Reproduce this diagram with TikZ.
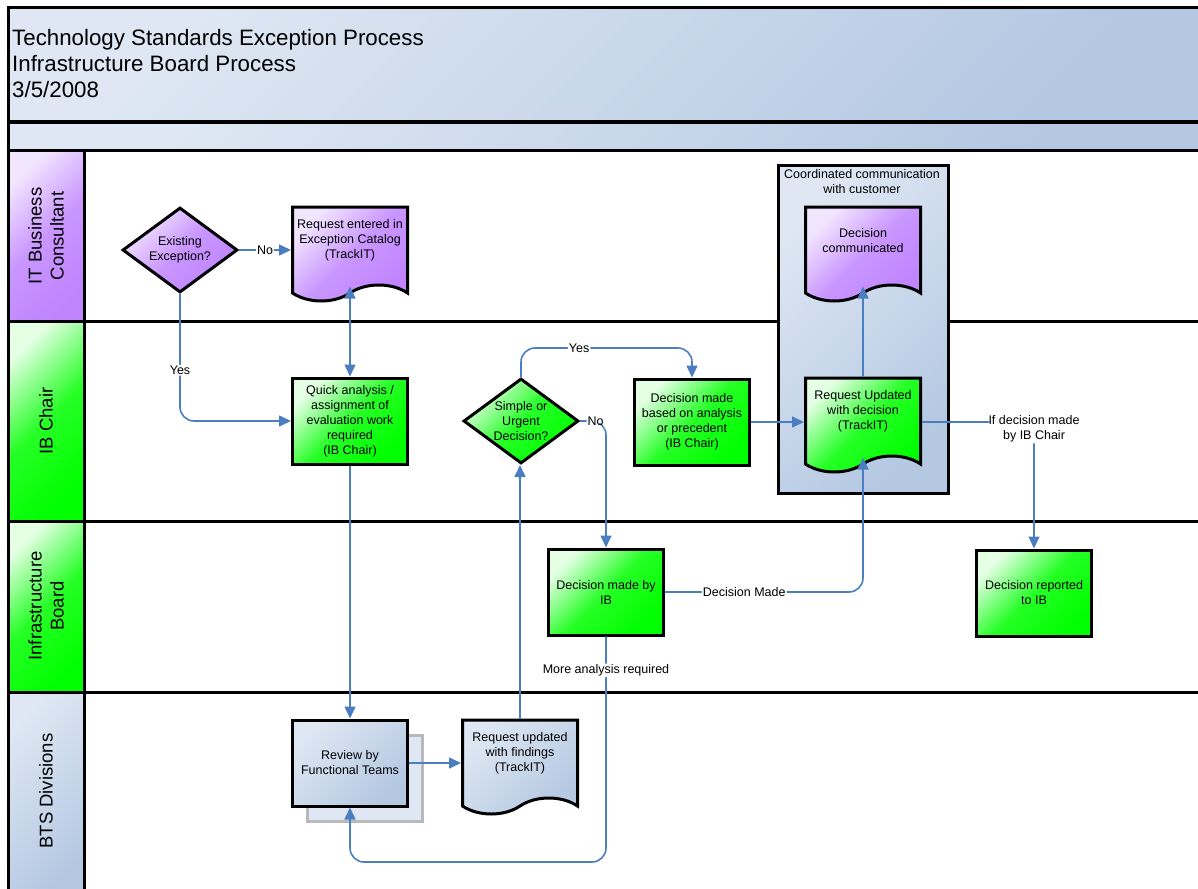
\documentclass[tikz,border=0pt]{standalone}
\usepackage{fontspec}
\setmainfont{Liberation Sans}
\usetikzlibrary{arrows.meta, positioning, shapes.geometric, shapes.symbols}
\definecolor{lanegreen}{RGB}{0,255,0}
\definecolor{lanepurple}{RGB}{192,132,255}
\definecolor{paleblue}{RGB}{222,231,243}
\definecolor{steelblue}{RGB}{180,200,226}
\definecolor{linkblue}{RGB}{74,126,193}

\begin{document}
\begin{tikzpicture}[x=1pt, y=-1pt, font=\fontsize{12.5}{15}\selectfont, >={Triangle[length=12pt, width=11pt]},
    bluefill/.style={top color=paleblue, bottom color=steelblue, shading angle=45},
    purplefill/.style={top color=lanepurple!20, bottom color=lanepurple, middle color=lanepurple!85, shading angle=45},
    greenfill/.style={top color=lanegreen!10, bottom color=lanegreen, middle color=lanegreen!85, shading angle=45},
    proc/.style={draw, line width=3pt, minimum width=115pt, minimum height=86pt, align=center, inner sep=1pt},
    docu/.style={proc, tape, tape bend top=none, tape bend bottom=in and out, tape bend height=16pt, minimum height=94pt},
    doctext/.style={align=center, yshift=5.5pt},
    decide/.style={draw, diamond, line width=3pt, minimum width=115pt, minimum height=85pt, aspect=1.35, align=center, inner sep=0pt},
    flow/.style={draw=linkblue, line width=1.6pt, rounded corners=14pt},
    flowlbl/.style={fill=white, inner sep=1pt, align=center},
    lanetxt/.style={rotate=90, align=center, font=\fontsize{18.5}{22}\selectfont}]

  \useasboundingbox (0,0) rectangle (1198,888);
  \clip (0,0) rectangle (1198,888);
  \shade[bluefill] (8,8) rectangle (1220,122);
  \shade[bluefill] (8,122) rectangle (1220,150);
  \shade[purplefill] (8,150) rectangle (84,321);
  \shade[greenfill] (8,321) rectangle (84,521);
  \shade[greenfill] (8,521) rectangle (84,692);
  \shade[bluefill] (8,692) rectangle (84,900);
  \foreach \y in {122,150,321,521,692} \draw[line width=3pt] (8,\y) -- (1220,\y);
  \draw[line width=3pt] (1220,8) -- (8,8) -- (8,900);
  \draw[line width=3pt] (84,150) -- (84,900);

  \node[anchor=north west, align=left, inner sep=0pt, font=\fontsize{22.3}{26}\selectfont] (title) at (12,29)
    {Technology Standards Exception Process\\Infrastructure Board Process\\3/5/2008};
  \node[lanetxt] (laneIT) at (46,236) {IT Business\\Consultant};
  \node[lanetxt] (laneIB) at (46,421) {IB Chair};
  \node[lanetxt] (laneInfra) at (46,606) {Infrastructure\\Board};
  \node[lanetxt] (laneBTS) at (46,791) {BTS Divisions};

  \node[draw, line width=3pt, bluefill, minimum width=170pt, minimum height=328pt] (grp) at (863,329) {};
  \node[align=center] (grplbl) at (862,182) {Coordinated communication\\with customer};

  \node[decide, purplefill] (ex) at (180,250) {Existing\\Exception?};
  \node[docu, purplefill, label={[doctext]center:{Request entered in\\Exception Catalog\\(TrackIT)}}] (req) at (350,246) {};
  \node[proc, greenfill] (qa) at (350,421) {Quick analysis /\\assignment of\\evaluation work\\required\\(IB Chair)};
  \node[decide, greenfill] (simple) at (521,421) {Simple or\\Urgent\\Decision?};
  \node[proc, greenfill] (dm) at (692,422) {Decision made\\based on analysis\\or precedent\\(IB Chair)};
  \node[docu, purplefill, label={[doctext]center:{Decision\\communicated}}] (comm) at (863,246) {};
  \node[docu, greenfill, label={[doctext]center:{Request Updated\\with decision\\(TrackIT)}}] (ru) at (863,417) {};
  \node[proc, greenfill] (ib) at (606,592) {Decision made by\\IB};
  \node[proc, greenfill] (rep) at (1034,593) {Decision reported\\to IB};
  \node[proc, fill=paleblue, draw=gray!55] (revsh) at (365,778) {};
  \node[proc, bluefill] (rev) at (350,763) {Review by\\Functional Teams};
  \node[docu, bluefill, label={[doctext]center:{Request updated\\with findings\\(TrackIT)}}] (fnd) at (520,759) {};
  \coordinate (back) at (606,862);

  \draw[flow, ->] (ex.east) -- node[flowlbl] {No} (ex.east -| req.west);
  \draw[flow, ->] (ex.south) |- node[flowlbl, pos=0.3] {Yes} (qa.west);
  \draw[flow, <->] (req.south) -- (qa.north);
  \draw[flow, ->] (qa.south) -- (rev.north);
  \draw[flow, ->] (rev.east) -- (rev.east -| fnd.west);
  \draw[flow, ->] (fnd.north) -- (fnd.north |- simple.south);
  \draw[flow, ->] (simple.north) -- ++(0,-29) -| node[flowlbl, pos=0.17] {Yes} (dm.north);
  \draw[flow, ->] (simple.east) -| node[flowlbl, pos=0.3] {No} (ib.north);
  \draw[flow, ->] (dm.east) -- (dm.east -| ru.west);
  \draw[flow, ->] (ru.north) -- (comm.south);
  \draw[flow, ->] (ib.east) -| node[flowlbl, pos=0.2] {Decision Made} (ru.south);
  \draw[flow, ->] (ru.east |- dm.east) -| node[flowlbl, pos=0.5, yshift=-7pt] {If decision made\\by IB Chair} (rep.north);
  \draw[flow, ->] (ib.south) -- node[flowlbl, pos=0.15] {More analysis required} (back) -| (rev.south);
\end{tikzpicture}
\end{document}
